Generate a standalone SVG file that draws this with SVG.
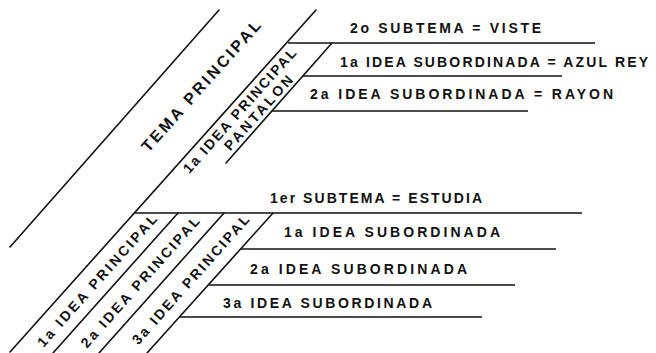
<svg xmlns="http://www.w3.org/2000/svg" width="656" height="353" viewBox="0 0 656 353">
<style>
.t{font-family:"Liberation Sans",Arial,sans-serif;font-weight:bold;font-size:14px;fill:#111}
.big{font-size:16px}
.ln{stroke:#111;stroke-width:1.6;fill:none;stroke-linecap:round}
.hl{stroke:#111;stroke-width:1.4;fill:none}
</style>
<rect width="656" height="353" fill="#fff"/>
<g id="connectors">
<line class="ln" x1="219" y1="10" x2="10" y2="247"/>
<line class="ln" x1="316" y1="10" x2="10" y2="352"/>
<line class="ln" x1="332" y1="43" x2="226" y2="163"/>
<line class="hl" x1="288" y1="43" x2="595" y2="43"/>
<line class="hl" x1="303" y1="76" x2="562" y2="76"/>
<line class="hl" x1="272" y1="111" x2="528" y2="111"/>
<line class="ln" x1="178" y1="213" x2="53" y2="353"/>
<line class="ln" x1="224" y1="213" x2="99" y2="353"/>
<line class="ln" x1="273" y1="213" x2="147" y2="353"/>
<line class="hl" x1="135" y1="213" x2="582" y2="213"/>
<line class="hl" x1="241" y1="249" x2="556" y2="249"/>
<line class="hl" x1="209" y1="285" x2="515" y2="285"/>
<line class="hl" x1="180" y1="317" x2="482" y2="317"/>
</g>
<g id="tema-principal">
<text class="t big" transform="translate(201 86) rotate(-48.2)" x="-85" y="5.5" textLength="170" lengthAdjust="spacing">TEMA PRINCIPAL</text>
</g>
<g id="idea-principal-pantalon">
<text class="t" transform="translate(239.4 110.6) rotate(-48.2)" x="-81" y="5" textLength="162" lengthAdjust="spacing">1a IDEA PRINCIPAL</text>
<text class="t" transform="translate(258.3 112.7) rotate(-48.2)" x="-47.5" y="5" textLength="95" lengthAdjust="spacing">PANTALON</text>
</g>
<g id="subtema-viste">
<text class="t" x="350" y="33" textLength="191" lengthAdjust="spacing">2o SUBTEMA = VISTE</text>
</g>
<g id="sub-azul-rey">
<text class="t" x="340" y="67" textLength="308" lengthAdjust="spacing">1a IDEA SUBORDINADA = AZUL REY</text>
</g>
<g id="sub-rayon">
<text class="t" x="310" y="99" textLength="303" lengthAdjust="spacing">2a IDEA SUBORDINADA = RAYON</text>
</g>
<g id="subtema-estudia">
<text class="t" x="270" y="203" textLength="212" lengthAdjust="spacing">1er SUBTEMA = ESTUDIA</text>
</g>
<g id="sub-1a">
<text class="t" x="284" y="237" textLength="216" lengthAdjust="spacing">1a IDEA SUBORDINADA</text>
</g>
<g id="sub-2a">
<text class="t" x="250" y="274" textLength="217" lengthAdjust="spacing">2a IDEA SUBORDINADA</text>
</g>
<g id="sub-3a">
<text class="t" x="223" y="308" textLength="209" lengthAdjust="spacing">3a IDEA SUBORDINADA</text>
</g>
<g id="idea-principal-1a">
<text class="t" transform="translate(97 280.5) rotate(-48.2)" x="-86" y="5" textLength="172" lengthAdjust="spacing">1a IDEA PRINCIPAL</text>
</g>
<g id="idea-principal-2a">
<text class="t" transform="translate(140 282) rotate(-48.2)" x="-85" y="5" textLength="170" lengthAdjust="spacing">2a IDEA PRINCIPAL</text>
</g>
<g id="idea-principal-3a">
<text class="t" transform="translate(190.5 279.5) rotate(-48.2)" x="-84" y="5" textLength="168" lengthAdjust="spacing">3a IDEA PRINCIPAL</text>
</g>
</svg>
